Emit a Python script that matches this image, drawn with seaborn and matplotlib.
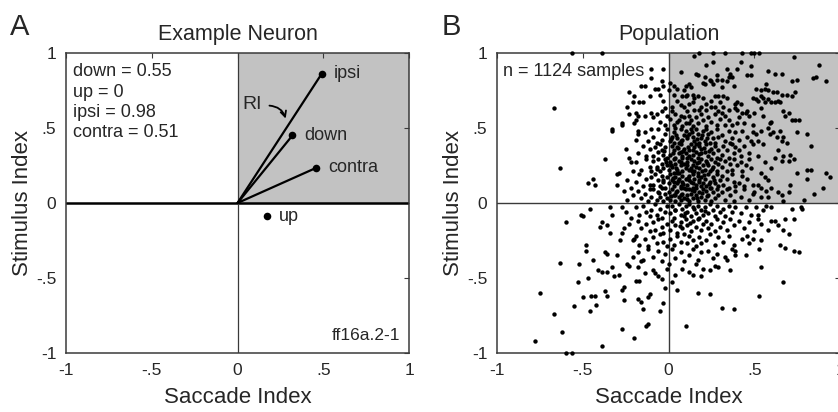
import matplotlib
matplotlib.use("Agg")
import matplotlib.pyplot as plt
import seaborn as sns
import pandas as pd

# Panel A: example neuron (saccade index, stimulus index per direction)
directions = ["ipsi", "down", "contra", "up"]
neuron_sacc = [0.49, 0.32, 0.46, 0.17]
neuron_stim = [0.86, 0.45, 0.235, -0.09]
ri_values = ["down = 0.55", "up = 0", "ipsi = 0.98", "contra = 0.51"]

# Panel B: population samples (saccade index, stimulus index)
pop_core = [
    (-0.19, 0.42), (-0.14, 0.47), (-0.12, 0.41), (-0.09, 0.44), (-0.06, 0.49), (-0.04, 0.42), (-0.02, 0.46),
    (-0.07, 0.40), (-0.01, 0.49), (0.01, 0.41), (0.03, 0.47), (0.05, 0.43), (0.07, 0.49), (0.09, 0.45),
    (0.02, 0.44), (0.06, 0.40), (0.08, 0.42), (0.04, 0.50), (0.10, 0.48), (0.11, 0.43), (0.13, 0.49),
    (0.15, 0.41), (0.17, 0.46), (0.19, 0.43), (0.12, 0.46), (0.16, 0.49), (0.18, 0.40), (0.14, 0.44),
    (0.20, 0.48), (0.21, 0.41), (0.23, 0.46), (0.26, 0.43), (0.28, 0.49), (0.29, 0.44), (0.22, 0.49),
    (0.25, 0.47), (0.27, 0.40), (0.31, 0.45), (0.33, 0.41), (0.35, 0.48), (0.37, 0.43), (0.39, 0.47),
    (0.36, 0.40), (0.41, 0.42), (0.43, 0.48), (0.46, 0.44), (0.48, 0.41), (0.49, 0.47),
    (-0.18, 0.33), (-0.15, 0.38), (-0.13, 0.31), (-0.11, 0.36), (-0.09, 0.31), (-0.08, 0.37), (-0.06, 0.34),
    (-0.05, 0.39), (-0.03, 0.32), (-0.02, 0.37), (-0.01, 0.30), (-0.04, 0.35), (0.01, 0.32), (0.02, 0.38),
    (0.03, 0.35), (0.04, 0.30), (0.05, 0.37), (0.06, 0.33), (0.07, 0.39), (0.08, 0.31), (0.09, 0.36),
    (0.10, 0.33), (0.03, 0.40), (0.07, 0.34), (0.11, 0.30), (0.12, 0.35), (0.13, 0.39), (0.14, 0.32),
    (0.15, 0.37), (0.16, 0.34), (0.17, 0.30), (0.18, 0.38), (0.19, 0.33), (0.12, 0.31), (0.16, 0.39),
    (0.19, 0.36), (0.21, 0.34), (0.22, 0.39), (0.23, 0.31), (0.25, 0.36), (0.26, 0.33), (0.27, 0.38),
    (0.28, 0.30), (0.29, 0.35), (0.24, 0.40), (0.31, 0.32), (0.32, 0.38), (0.34, 0.35), (0.35, 0.30),
    (0.37, 0.39), (0.38, 0.33), (0.39, 0.37), (0.41, 0.35), (0.42, 0.31), (0.44, 0.38), (0.47, 0.33),
    (0.49, 0.39),
    (-0.19, 0.27), (-0.16, 0.22), (-0.13, 0.29), (-0.11, 0.24), (-0.10, 0.21), (-0.09, 0.28), (-0.07, 0.24),
    (-0.06, 0.29), (-0.05, 0.21), (-0.04, 0.26), (-0.03, 0.23), (-0.02, 0.29), (-0.01, 0.25), (0.00, 0.22),
    (0.01, 0.27), (0.02, 0.24), (0.03, 0.20), (0.03, 0.29), (0.04, 0.26), (0.05, 0.22), (0.06, 0.28),
    (0.07, 0.25), (0.08, 0.21), (0.08, 0.30), (0.09, 0.26), (0.10, 0.23), (0.06, 0.20), (0.11, 0.27),
    (0.12, 0.22), (0.13, 0.29), (0.14, 0.25), (0.15, 0.21), (0.15, 0.28), (0.16, 0.24), (0.17, 0.20),
    (0.18, 0.27), (0.18, 0.23), (0.19, 0.29), (0.20, 0.25), (0.13, 0.23), (0.21, 0.22), (0.22, 0.28),
    (0.23, 0.25), (0.24, 0.21), (0.25, 0.29), (0.26, 0.24), (0.27, 0.27), (0.28, 0.21), (0.29, 0.26),
    (0.30, 0.29), (0.31, 0.24), (0.33, 0.28), (0.34, 0.21), (0.36, 0.26), (0.37, 0.22), (0.38, 0.29),
    (0.40, 0.25), (0.42, 0.27), (0.43, 0.21), (0.45, 0.25), (0.47, 0.29), (0.48, 0.23),
    (-0.19, 0.14), (-0.17, 0.19), (-0.15, 0.11), (-0.13, 0.16), (-0.11, 0.12), (-0.10, 0.17), (-0.09, 0.12),
    (-0.08, 0.19), (-0.06, 0.15), (-0.05, 0.11), (-0.04, 0.18), (-0.03, 0.14), (-0.02, 0.10), (-0.01, 0.17),
    (0.00, 0.13), (0.01, 0.19), (0.02, 0.15), (0.03, 0.11), (0.04, 0.17), (0.05, 0.13), (0.05, 0.20),
    (0.06, 0.16), (0.07, 0.11), (0.08, 0.18), (0.08, 0.14), (0.09, 0.10), (0.10, 0.16), (0.03, 0.14),
    (0.11, 0.12), (0.12, 0.18), (0.13, 0.14), (0.14, 0.10), (0.14, 0.19), (0.15, 0.16), (0.16, 0.12),
    (0.17, 0.18), (0.18, 0.14), (0.19, 0.11), (0.19, 0.17), (0.20, 0.13), (0.12, 0.15), (0.21, 0.16),
    (0.22, 0.11), (0.23, 0.19), (0.24, 0.14), (0.25, 0.10), (0.26, 0.17), (0.27, 0.13), (0.28, 0.19),
    (0.29, 0.11), (0.30, 0.15), (0.31, 0.18), (0.32, 0.12), (0.34, 0.16), (0.35, 0.10), (0.37, 0.19),
    (0.38, 0.14), (0.39, 0.11), (0.41, 0.13), (0.43, 0.18), (0.44, 0.11), (0.46, 0.16), (0.49, 0.12),
    (-0.18, 0.08), (-0.16, 0.03), (-0.14, 0.06), (-0.12, 0.01), (-0.11, 0.09), (-0.10, 0.04), (-0.09, 0.09),
    (-0.07, 0.02), (-0.06, 0.07), (-0.05, 0.04), (-0.04, 0.10), (-0.03, 0.01), (-0.02, 0.06), (-0.01, 0.03),
    (0.00, 0.07), (0.01, 0.02), (0.02, 0.09), (0.03, 0.05), (0.04, 0.01), (0.05, 0.08), (0.06, 0.04),
    (0.07, 0.10), (0.07, 0.02), (0.08, 0.06), (0.09, 0.03), (0.10, 0.09), (0.04, 0.05), (0.11, 0.05),
    (0.12, 0.01), (0.12, 0.09), (0.13, 0.06), (0.14, 0.03), (0.15, 0.08), (0.16, 0.05), (0.17, 0.01),
    (0.18, 0.07), (0.19, 0.04), (0.20, 0.09), (0.16, 0.10), (0.21, 0.02), (0.22, 0.08), (0.23, 0.05),
    (0.25, 0.01), (0.26, 0.07), (0.27, 0.03), (0.28, 0.09), (0.29, 0.05), (0.24, 0.10), (0.31, 0.07),
    (0.33, 0.02), (0.34, 0.09), (0.36, 0.05), (0.38, 0.01), (0.39, 0.08), (0.42, 0.04), (0.44, 0.09),
    (0.47, 0.02), (0.49, 0.06),
    (-0.19, -0.03), (-0.17, -0.08), (-0.15, -0.02), (-0.13, -0.06), (-0.11, -0.09), (-0.10, -0.05),
    (-0.08, -0.01), (-0.07, -0.08), (-0.05, -0.04), (-0.04, -0.10), (-0.02, -0.06), (-0.01, -0.02),
    (0.01, -0.07), (0.02, -0.02), (0.03, -0.10), (0.04, -0.05), (0.06, -0.01), (0.07, -0.08), (0.08, -0.04),
    (0.09, -0.09), (0.10, -0.02), (0.11, -0.06), (0.12, -0.01), (0.13, -0.09), (0.15, -0.04), (0.16, -0.07),
    (0.17, -0.02), (0.18, -0.10), (0.19, -0.05), (0.20, -0.08), (0.21, -0.03), (0.23, -0.07), (0.24, -0.01),
    (0.26, -0.05), (0.27, -0.09), (0.28, -0.02), (0.30, -0.06), (0.32, -0.04), (0.33, -0.09), (0.35, -0.02),
    (0.37, -0.06), (0.39, -0.03), (0.42, -0.07), (0.45, -0.03), (0.48, -0.08),
    (-0.18, -0.12), (-0.16, -0.17), (-0.13, -0.14), (-0.11, -0.19), (-0.09, -0.13), (-0.08, -0.18),
    (-0.06, -0.11), (-0.04, -0.16), (-0.03, -0.20), (-0.01, -0.14), (0.01, -0.18), (0.02, -0.12), (0.04, -0.15),
    (0.05, -0.20), (0.07, -0.13), (0.08, -0.17), (0.10, -0.11), (0.11, -0.15), (0.13, -0.19), (0.14, -0.12),
    (0.16, -0.16), (0.17, -0.11), (0.19, -0.18), (0.20, -0.14), (0.22, -0.12), (0.23, -0.17), (0.25, -0.14),
    (0.27, -0.19), (0.28, -0.11), (0.30, -0.16), (0.32, -0.13), (0.34, -0.18), (0.36, -0.11), (0.38, -0.15),
    (0.41, -0.12), (0.44, -0.17), (0.47, -0.13),
    (-0.19, -0.22), (-0.17, -0.28), (-0.14, -0.24), (-0.12, -0.29), (-0.09, -0.23), (-0.07, -0.27),
    (-0.05, -0.21), (-0.03, -0.26), (-0.01, -0.29), (0.01, -0.24), (0.03, -0.28), (0.05, -0.22), (0.07, -0.26),
    (0.09, -0.21), (0.11, -0.27), (0.12, -0.22), (0.14, -0.25), (0.16, -0.29), (0.18, -0.23), (0.19, -0.27),
    (0.22, -0.25), (0.24, -0.21), (0.27, -0.28), (0.29, -0.23), (0.32, -0.26), (0.35, -0.22), (0.38, -0.28),
    (0.43, -0.24), (0.47, -0.27),
    (-0.18, -0.33), (-0.15, -0.38), (-0.12, -0.31), (-0.09, -0.36), (-0.06, -0.32), (-0.04, -0.39),
    (-0.02, -0.34), (0.02, -0.31), (0.04, -0.37), (0.07, -0.33), (0.09, -0.39), (0.12, -0.35), (0.14, -0.31),
    (0.17, -0.38), (0.19, -0.33), (0.23, -0.32), (0.26, -0.37), (0.28, -0.34), (0.33, -0.36), (0.37, -0.31),
    (0.45, -0.35),
]

# extra samples where the cloud is densest (blob around x 0-0.25, y 0-0.45)
pop_dense = [
    (0.015, 0.425), (0.045, 0.455), (0.075, 0.415), (0.105, 0.445), (0.135, 0.475), (0.165, 0.425),
    (0.195, 0.455), (0.225, 0.435), (0.025, 0.335), (0.055, 0.365), (0.085, 0.345), (0.115, 0.375),
    (0.145, 0.355), (0.175, 0.325), (0.205, 0.365), (0.235, 0.345), (0.015, 0.255), (0.045, 0.235),
    (0.075, 0.275), (0.105, 0.255), (0.135, 0.215), (0.165, 0.265), (0.195, 0.215), (0.225, 0.265),
    (0.255, 0.225), (0.025, 0.165), (0.055, 0.145), (0.085, 0.125), (0.115, 0.165), (0.145, 0.135),
    (0.175, 0.155), (0.205, 0.185), (0.235, 0.125), (0.265, 0.155), (0.015, 0.045), (0.045, 0.075),
    (0.075, 0.055), (0.105, 0.025), (0.135, 0.085), (0.165, 0.035), (0.195, 0.065), (0.225, 0.045),
    (-0.035, 0.155), (-0.065, 0.225), (-0.025, 0.345), (-0.055, 0.065), (-0.015, 0.275),
    (0.035, -0.045), (0.095, -0.065), (0.145, -0.025), (0.215, -0.055), (0.065, -0.155), (0.125, -0.135),
]

pop_upper = [
    (-0.56, 1.0), (-0.39, 1.0), (0.15, 0.98), (0.18, 1.0), (0.26, 1.0), (0.33, 1.0), (0.43, 1.0), (0.48, 1.0),
    (0.50, 1.0), (0.53, 1.0), (0.42, 0.94), (0.73, 0.97), (0.88, 0.92), (0.92, 0.81), (0.84, 0.835),
    (0.86, 0.84), (0.75, 0.82), (0.72, 0.81), (0.66, 0.86), (0.62, 0.86), (0.58, 0.88), (0.48, 0.91),
    (0.48, 0.85), (0.46, 0.85), (0.40, 0.89), (0.36, 0.86), (0.35, 0.84), (0.37, 0.84), (0.34, 0.89),
    (0.26, 0.94), (0.22, 0.92), (0.16, 0.86), (0.20, 0.80), (0.21, 0.79), (0.25, 0.81), (0.26, 0.79),
    (0.28, 0.82), (0.07, 0.87), (-0.03, 0.89), (0.12, 0.79), (0.13, 0.77), (0.09, 0.75), (0.03, 0.72),
    (0.00, 0.75), (0.51, 0.76), (0.54, 0.75), (0.56, 0.76), (0.58, 0.75), (0.63, 0.74), (0.66, 0.72),
    (0.69, 0.72), (0.72, 0.71), (0.74, 0.74), (0.64, 0.68), (0.65, 0.67), (0.62, 0.67), (0.49, 0.70),
    (0.52, 0.68), (0.54, 0.71), (0.58, 0.69), (0.56, 0.67), (0.40, 0.67), (0.42, 0.66), (0.40, 0.62),
    (0.43, 0.60), (0.46, 0.61), (0.47, 0.58), (0.41, 0.57), (0.72, 0.55), (0.74, 0.55), (0.76, 0.55),
    (0.67, 0.61), (0.68, 0.58), (0.70, 0.60), (0.17, 0.85), (0.21, 0.84), (0.28, 0.85), (0.31, 0.82),
    (0.31, 0.77), (0.34, 0.81), (0.38, 0.78), (0.24, 0.82), (0.57, 0.79), (0.61, 0.74), (0.55, 0.70),
    (0.51, 0.69), (0.60, 0.67), (0.10, 0.71), (0.14, 0.72), (0.15, 0.70), (0.17, 0.71), (0.20, 0.70),
    (0.27, 0.71), (0.29, 0.71), (0.25, 0.68), (0.32, 0.71), (0.34, 0.70), (0.14, 0.67), (0.19, 0.64),
    (0.18, 0.62), (0.22, 0.62), (0.25, 0.64), (0.29, 0.61), (0.32, 0.64), (0.31, 0.60), (0.39, 0.66),
    (0.39, 0.63), (0.45, 0.60), (0.50, 0.60), (0.54, 0.63), (0.55, 0.58), (0.59, 0.53), (0.60, 0.54),
    (0.44, 0.53), (0.49, 0.52), (0.40, 0.53), (0.37, 0.52), (0.33, 0.52),
    (-0.10, 0.83), (-0.16, 0.78), (-0.23, 0.74), (-0.20, 0.71), (-0.08, 0.76), (-0.06, 0.76), (-0.11, 0.71),
    (-0.17, 0.67), (-0.21, 0.67), (-0.24, 0.64), (-0.23, 0.59), (-0.19, 0.60), (-0.18, 0.58), (-0.14, 0.58),
    (-0.10, 0.60), (-0.09, 0.57), (-0.07, 0.59), (-0.27, 0.53), (-0.33, 0.49), (-0.20, 0.53), (-0.19, 0.55),
    (-0.10, 0.49), (-0.04, 0.81), (-0.03, 0.78), (-0.05, 0.72), (-0.03, 0.68), (-0.02, 0.63), (-0.04, 0.61),
    (-0.05, 0.54), (-0.02, 0.52), (-0.15, 0.67), (-0.14, 0.78), (-0.10, 0.89), (-0.18, 0.48), (-0.18, 0.46),
    (0.01, 0.80), (0.03, 0.78), (0.05, 0.76), (0.10, 0.78), (0.11, 0.72), (0.08, 0.71), (0.05, 0.68),
    (0.09, 0.64), (0.02, 0.64), (0.11, 0.61), (0.07, 0.58), (0.05, 0.54), (0.10, 0.53), (0.12, 0.53),
    (0.01, 0.56), (0.03, 0.52), (0.04, 0.59), (0.06, 0.55), (0.08, 0.51), (0.09, 0.57), (0.12, 0.58),
    (0.13, 0.55), (0.14, 0.51), (0.16, 0.57), (0.17, 0.53), (0.19, 0.59), (0.20, 0.55), (0.22, 0.51),
    (0.23, 0.57), (0.25, 0.54), (0.27, 0.59), (0.28, 0.52), (0.30, 0.56), (0.33, 0.58), (0.35, 0.55),
    (-0.01, 0.58), (0.02, 0.61), (0.15, 0.62), (0.07, 0.65), (0.12, 0.66), (0.22, 0.66), (0.27, 0.64),
    (0.35, 0.62), (0.30, 0.67),
]

pop_right = [
    (0.75, 0.47), (0.81, 0.46), (0.83, 0.38), (0.58, 0.50), (0.61, 0.47), (0.63, 0.44), (0.59, 0.46),
    (0.65, 0.48), (0.67, 0.44), (0.66, 0.41), (0.69, 0.40), (0.54, 0.48), (0.51, 0.46), (0.52, 0.41),
    (0.55, 0.39), (0.64, 0.35), (0.67, 0.31), (0.71, 0.32), (0.66, 0.28), (0.70, 0.28), (0.73, 0.29),
    (0.75, 0.20), (0.81, 0.22), (0.83, 0.22), (0.81, 0.16), (0.92, 0.20), (0.94, 0.17), (0.90, 0.10),
    (0.85, 0.06), (0.79, 0.02), (0.71, 0.12), (0.70, 0.07), (0.66, 0.05), (0.64, 0.07), (0.67, 0.01),
    (0.54, 0.20), (0.56, 0.17), (0.58, 0.15), (0.52, 0.12), (0.54, 0.10), (0.57, 0.08), (0.60, 0.10),
    (0.50, 0.07), (0.54, 0.04), (0.58, 0.04), (0.52, 0.31), (0.56, 0.27), (0.60, 0.23), (0.62, 0.30),
    (0.54, -0.14), (0.54, -0.25), (0.60, -0.12), (0.62, -0.12), (0.64, -0.15), (0.67, -0.18), (0.68, -0.11),
    (0.73, -0.11), (0.70, -0.21), (0.58, -0.18), (0.65, -0.28), (0.68, -0.30), (0.73, -0.32), (0.76, -0.33),
    (0.51, -0.03), (0.52, -0.08), (0.55, -0.05), (0.57, -0.02), (0.50, -0.19), (0.53, -0.31), (0.52, -0.11),
    (0.60, -0.03), (0.77, -0.03), (0.78, -0.04), (0.72, -0.04), (0.49, -0.24), (0.46, -0.22),
]

pop_left_lower = [
    (-0.67, 0.63), (-0.63, 0.23), (-0.33, 0.48), (-0.37, 0.29), (-0.47, 0.13), (-0.44, 0.16), (-0.43, 0.12),
    (-0.30, 0.12), (-0.29, 0.20), (-0.30, 0.19), (-0.27, 0.52), (-0.25, 0.36), (-0.23, 0.30), (-0.22, 0.27),
    (-0.24, 0.15), (-0.22, 0.10), (-0.21, 0.05), (-0.24, 0.02), (-0.21, 0.21), (-0.26, 0.08),
    (-0.60, -0.13), (-0.51, -0.08), (-0.50, -0.09), (-0.46, -0.04), (-0.40, -0.16), (-0.39, -0.13),
    (-0.34, -0.03), (-0.33, -0.08), (-0.36, -0.15), (-0.34, -0.20), (-0.27, -0.03), (-0.28, -0.25),
    (-0.27, -0.20), (-0.26, -0.17), (-0.37, -0.33), (-0.36, -0.34), (-0.30, -0.35), (-0.24, -0.41),
    (-0.23, -0.42), (-0.21, -0.36), (-0.21, -0.25), (-0.20, -0.24), (-0.48, -0.28), (-0.48, -0.32),
    (-0.22, -0.10), (-0.25, -0.06), (-0.23, -0.14),
    (-0.63, -0.40), (-0.52, -0.41), (-0.75, -0.60), (-0.67, -0.74), (-0.62, -0.86), (-0.78, -0.92),
    (-0.60, -1.0), (-0.56, -1.0), (-0.39, -0.95), (-0.27, -0.84), (-0.20, -0.90), (-0.12, -0.81),
    (-0.55, -0.69), (-0.50, -0.63), (-0.45, -0.62), (-0.43, -0.62), (-0.53, -0.53), (-0.46, -0.72),
    (-0.42, -0.68), (-0.47, -0.50), (-0.44, -0.38), (-0.41, -0.45), (-0.39, -0.46), (-0.36, -0.46),
    (-0.37, -0.59), (-0.36, -0.62), (-0.33, -0.43), (-0.32, -0.49), (-0.29, -0.48), (-0.26, -0.56),
    (-0.27, -0.58), (-0.26, -0.65), (-0.18, -0.64), (-0.16, -0.66), (-0.15, -0.71), (-0.13, -0.82),
    (-0.18, -0.43), (-0.19, -0.52), (-0.17, -0.52), (-0.16, -0.39), (-0.05, -0.72), (-0.03, -0.67),
    (-0.11, -0.61), (-0.12, -0.63), (-0.06, -0.49), (-0.04, -0.51), (-0.09, -0.45), (-0.08, -0.47),
    (-0.01, -0.44), (0.00, -0.41), (-0.14, -0.47), (0.05, -0.58), (0.10, -0.82), (0.17, -0.60),
    (0.24, -0.61), (0.31, -0.70), (0.38, -0.71), (0.54, -0.43), (0.53, -0.62), (0.67, -0.53),
    (0.04, -0.48), (0.36, -0.45), (0.29, -0.43), (0.27, -0.42), (0.20, -0.44), (0.12, -0.46), (0.14, -0.48),
    (0.39, -0.35), (0.39, -0.32), (0.34, -0.38), (0.08, -0.44), (0.16, -0.41), (0.24, -0.45), (0.19, -0.49),
    (0.02, -0.53), (-0.02, -0.57),
]

n_label = "n = 1124 samples"
ticks = [-1, -0.5, 0, 0.5, 1]
tick_labels = ["-1", "-.5", "0", ".5", "1"]

sns.set_style("white")
plt.rcParams["font.family"] = ["Liberation Sans", "DejaVu Sans"]

fig = plt.figure(figsize=(8.38, 4.12), dpi=100)
ax_a = fig.add_axes([0.0788, 0.1432, 0.4093, 0.7282])
ax_b = fig.add_axes([0.5931, 0.1432, 0.4093, 0.7282])

frame_col = "#3a3a3a"
shade = "#c2c2c2"


def style_axes(ax, title):
    ax.set_xlim(-1, 1)
    ax.set_ylim(-1, 1)
    ax.axvspan(0, 1, ymin=0.5, ymax=1, color=shade, lw=0, zorder=0)
    ax.set_xticks(ticks)
    ax.set_yticks(ticks)
    ax.set_xticklabels(tick_labels)
    ax.set_yticklabels(tick_labels)
    ax.tick_params(direction="in", length=3.5, width=0.8, color=frame_col,
                   top=True, right=True, labelsize=12.5, pad=7)
    for sp in ax.spines.values():
        sp.set_color(frame_col)
        sp.set_linewidth(1.1)
    ax.set_xlabel("Saccade Index", fontsize=16, labelpad=7)
    ax.set_ylabel("Stimulus Index", fontsize=16, labelpad=2)
    ax.set_title(title, fontsize=15.5, pad=9)


# --- Panel A ---
style_axes(ax_a, "Example Neuron")
ax_a.axhline(0, color="black", lw=1.8, zorder=1)
ax_a.axvline(0, color=frame_col, lw=0.9, zorder=1)
for d, sx, sy in zip(directions, neuron_sacc, neuron_stim):
    if sy > 0:
        ax_a.plot([0, sx], [0, sy], color="black", lw=1.6, zorder=2)
neuron_df = pd.DataFrame({"sacc": neuron_sacc, "stim": neuron_stim, "dir": directions})
sns.scatterplot(data=neuron_df, x="sacc", y="stim", ax=ax_a, color="black",
                s=30, linewidth=0, zorder=3, legend=False)
for d, sx, sy in zip(directions, neuron_sacc, neuron_stim):
    ax_a.text(sx + 0.07, sy, d, fontsize=13, va="center", ha="left")
ax_a.text(-0.96, 0.93, "\n".join(ri_values), fontsize=13, va="top", ha="left",
          linespacing=1.25)
ax_a.text(0.95, -0.93, "ff16a.2-1", fontsize=12.5, va="bottom", ha="right")
ax_a.text(0.085, 0.655, "RI", fontsize=14, va="center", ha="center")
ax_a.annotate("", xy=(0.285, 0.545), xytext=(0.17, 0.65),
              arrowprops=dict(arrowstyle="->", color="black", lw=1.3,
                              connectionstyle="arc3,rad=-0.4"))

# --- Panel B ---
style_axes(ax_b, "Population")
ax_b.axhline(0, color=frame_col, lw=1.0, zorder=1)
ax_b.axvline(0, color=frame_col, lw=1.0, zorder=1)
pop = pop_core + pop_dense + pop_upper + pop_right + pop_left_lower
pop_df = pd.DataFrame(pop, columns=["sacc", "stim"])
sns.scatterplot(data=pop_df, x="sacc", y="stim", ax=ax_b, color="black",
                s=10, linewidth=0, zorder=3, legend=False, clip_on=False)
ax_b.text(-0.965, 0.93, n_label, fontsize=13, va="top", ha="left")

fig.text(0.012, 0.935, "A", fontsize=21, va="center", ha="left")
fig.text(0.527, 0.935, "B", fontsize=21, va="center", ha="left")

fig.savefig("out.png", dpi=100, facecolor="white")
